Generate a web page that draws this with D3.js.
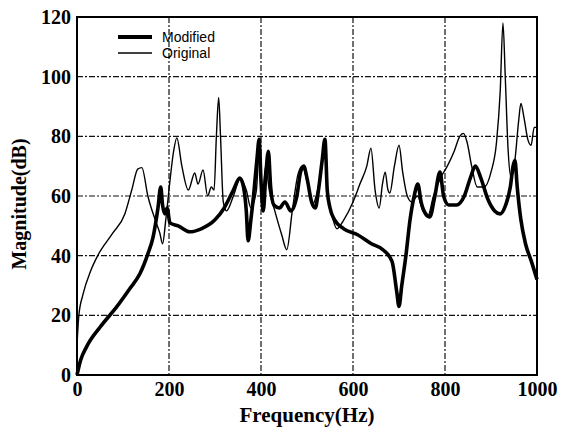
<!DOCTYPE html>
<html>
<head>
<meta charset="utf-8">
<script src="https://cdn.jsdelivr.net/npm/d3@7"></script>
<style>
  body { margin: 0; background: #fff; }
</style>
</head>
<body>
<script>
// frequency response data
let xTicks = [0, 200, 400, 600, 800, 1000];
let yTicks = [0, 20, 40, 60, 80, 100, 120];
let seriesNames = ['Modified', 'Original'];

let modFreq = [0,8,21,50,87,115,137,155,165,176,182,186,191,196,202,220,245,270,300,320,340,354,362,368,372,378,385,391,396,400,405,410,416,421,428,440,452,465,478,486,493,500,510,518,525,533,539,544,550,560,580,610,640,665,685,695,700,706,715,724,733,741,748,758,767,778,789,797,808,825,842,855,866,878,893,908,920,932,942,948,952,957,965,975,988,1000];
let modMag = [0,5,9.5,16,23,29,34,41,46,56,63,57,54,56,51,50,48,49,52,56,62,66,63,55,45,52,62,72,79,65,55,66,75,63,57,56,58,55,60,68,70,66,58,56,62,72,79,62,56,52,49,47,44,42,38,28,23,30,40,52,60,64,58,54,53,60,68,60,57,57,60,66,70,66,59,55,54,57,63,70,72,63,52,44,38,32];

let origFreq = [0,4,13,30,45,78,104,119,132,141,154,170,180,186,193,202,210,217,228,242,256,263,274,284,292,298,303,308,312,318,325,340,355,368,378,390,397,403,410,418,430,445,456,468,480,490,500,512,520,530,538,545,555,565,580,600,615,630,639,648,657,664,670,676,680,690,700,708,718,728,740,752,762,775,790,805,820,832,840,848,858,870,885,900,912,920,926,931,937,944,952,960,965,972,980,987,994,1000];
let origMag = [10,20,27,35,40,47.6,54,62,69,69.5,60,52,47.6,44,52,65,75,79.5,70,62,67.7,64,68.7,60,63,62,80,93,80,58,55,60,66,62,56,62,78,60,70,62,55,47,42,55,67,70,65,57,60,68,78,60,53,49,52,58,64,70,76,62,56,64,68,62,61,70,77,68,60,58,60,55,53,60,66,70,75,80,81,78,70,63,63,68,78,95,118,100,76,66,72,85,91,86,79,77,83,83];

let W = 575, H = 432;
let margin = { left: 77, right: 38, top: 17, bottom: 57 };
let iw = W - margin.left - margin.right;
let ih = H - margin.top - margin.bottom;

let svg = d3.select('body')
  .append('svg')
  .attr('width', W)
  .attr('height', H)
  .style('background', '#fff');

let x = d3.scaleLinear().domain([0, 1000]).range([0, iw]);
let y = d3.scaleLinear().domain([0, 120]).range([ih, 0]);

let g = svg.append('g')
  .attr('transform', 'translate(' + margin.left + ',' + margin.top + ')');

// dashed grid
g.append('g')
  .selectAll('line')
  .data(yTicks.slice(1, -1))
  .enter().append('line')
  .attr('x1', 0).attr('x2', iw)
  .attr('y1', d => y(d)).attr('y2', d => y(d))
  .attr('stroke', '#111')
  .attr('stroke-width', 1.2)
  .attr('stroke-dasharray', '6,2,2,2');
g.append('g')
  .selectAll('line')
  .data(xTicks.slice(1, -1))
  .enter().append('line')
  .attr('y1', 0).attr('y2', ih)
  .attr('x1', d => x(d)).attr('x2', d => x(d))
  .attr('stroke', '#111')
  .attr('stroke-width', 1.2)
  .attr('stroke-dasharray', '6,2,2,2');

// axes (labels only, frame drawn below)
let fontTick = '"Liberation Serif", "Times New Roman", serif';
let xAxis = g.append('g')
  .attr('transform', 'translate(0,' + ih + ')')
  .call(d3.axisBottom(x).tickValues(xTicks).tickFormat(d3.format('d')).tickSize(0).tickPadding(7));
let yAxis = g.append('g')
  .call(d3.axisLeft(y).tickValues(yTicks).tickFormat(d3.format('d')).tickSize(0).tickPadding(6));
[xAxis, yAxis].forEach(a => {
  a.select('.domain').remove();
  a.selectAll('text')
    .style('font-family', fontTick)
    .style('font-size', '20px')
    .style('font-weight', 'bold')
    .attr('fill', '#000');
});

// curves
let line = d3.line()
  .x(d => x(d[0]))
  .y(d => y(d[1]))
  .curve(d3.curveMonotoneX);

let origData = origFreq.map((f, i) => [f, origMag[i]]);
let modData = modFreq.map((f, i) => [f, modMag[i]]);

g.append('path')
  .datum(origData)
  .attr('d', line)
  .attr('fill', 'none')
  .attr('stroke', '#000')
  .attr('stroke-width', 1.4)
  .attr('stroke-linejoin', 'round');

g.append('path')
  .datum(modData)
  .attr('d', line)
  .attr('fill', 'none')
  .attr('stroke', '#000')
  .attr('stroke-width', 3.6)
  .attr('stroke-linejoin', 'round');

// frame
g.append('rect')
  .attr('width', iw)
  .attr('height', ih)
  .attr('fill', 'none')
  .attr('stroke', '#000')
  .attr('stroke-width', 2);

// legend
let legend = g.append('g').attr('transform', 'translate(41,20)');
legend.selectAll('line')
  .data(seriesNames)
  .enter().append('line')
  .attr('x1', 0).attr('x2', 34)
  .attr('y1', (d, i) => i * 16).attr('y2', (d, i) => i * 16)
  .attr('stroke', '#000')
  .attr('stroke-width', (d, i) => i === 0 ? 4 : 1.3);
legend.selectAll('text')
  .data(seriesNames)
  .enter().append('text')
  .attr('x', 44)
  .attr('y', (d, i) => i * 16 + 5)
  .text(d => d)
  .style('font-family', '"Liberation Sans", Arial, sans-serif')
  .style('font-size', '14px')
  .attr('fill', '#000');

// axis titles
svg.append('text')
  .attr('x', margin.left + iw / 2)
  .attr('y', 422)
  .attr('text-anchor', 'middle')
  .text('Frequency(Hz)')
  .style('font-family', fontTick)
  .style('font-size', '21px')
  .style('font-weight', 'bold');

svg.append('text')
  .attr('transform', 'translate(26,' + (margin.top + ih / 2 + 8) + ') rotate(-90)')
  .attr('text-anchor', 'middle')
  .text('Magnitude(dB)')
  .style('font-family', fontTick)
  .style('font-size', '20px')
  .style('font-weight', 'bold');
</script>
</body>
</html>
